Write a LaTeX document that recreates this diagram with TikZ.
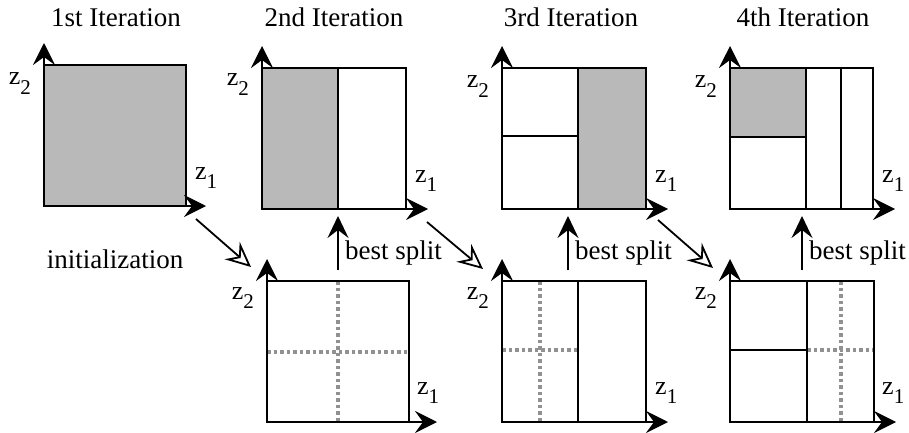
\documentclass[tikz,border=0pt]{standalone}
\usepackage{fontspec}
\setmainfont{Liberation Serif}
\usetikzlibrary{arrows.meta}
\definecolor{cellgray}{RGB}{185,185,185}
\definecolor{dotgray}{RGB}{145,145,145}
\newcommand{\zlab}[1]{z\raisebox{-0.38em}{\fontsize{21}{21}\selectfont #1}}
\begin{document}
\begin{tikzpicture}[x=1pt,y=-1pt,
  box/.style={draw=black,line width=2pt},
  sep/.style={draw=black,line width=2pt},
  axis/.style={line width=2.2pt,-{Stealth[length=22pt,width=22pt,inset=8pt]}},
  cand/.style={draw=dotgray,line width=3.5pt,dash pattern=on 3.5pt off 3pt},
  flow/.style={line width=1.8pt,-{Stealth[open,length=25pt,width=23pt,inset=9pt,fill=white]}},
  upar/.style={line width=2pt,-{Stealth[length=22pt,width=21pt,inset=8pt]}},
  lab/.style={font=\fontsize{27}{32}\selectfont,inner sep=0pt},
  zl/.style={font=\fontsize{26}{30}\selectfont,inner sep=0pt}]
\useasboundingbox (0,0) rectangle (909,433);

% ---------- titles ----------
\node[lab,anchor=base] (t1) at (116,27) {1st Iteration};
\node[lab,anchor=base] (t2) at (334,27) {2nd Iteration};
\node[lab,anchor=base] (t3) at (571,27) {3rd Iteration};
\node[lab,anchor=base] (t4) at (803,27) {4th Iteration};

% ---------- panel 1 ----------
\fill[cellgray] (44,65) rectangle (186,206);
\draw[box] (44,65) rectangle (186,206);
\coordinate (o1) at (44,206); \coordinate (y1) at (44,43); \coordinate (x1) at (206,206);
\draw[axis] (o1) -- (y1); \draw[axis] (o1) -- (x1);
\node[zl,anchor=base east] (z2a) at (31,85) {\zlab{2}};
\node[zl,anchor=base west] (z1a) at (195,179) {\zlab{1}};

% ---------- panel 2 ----------
\fill[cellgray] (262,68) rectangle (338,209);
\draw[box] (262,68) rectangle (406,209);
\draw[sep] (338,68) -- (338,209);
\coordinate (o2) at (262,209); \coordinate (y2) at (262,46); \coordinate (x2) at (428,209);
\draw[axis] (o2) -- (y2); \draw[axis] (o2) -- (x2);
\node[zl,anchor=base east] (z2b) at (249,86) {\zlab{2}};
\node[zl,anchor=base west] (z1b) at (415,182) {\zlab{1}};

% ---------- panel 3 ----------
\fill[cellgray] (578,68) rectangle (646,209);
\draw[box] (502,68) rectangle (646,209);
\draw[sep] (578,68) -- (578,209);
\draw[sep] (502,136) -- (578,136);
\coordinate (o3) at (502,209); \coordinate (y3) at (502,46); \coordinate (x3) at (668,209);
\draw[axis] (o3) -- (y3); \draw[axis] (o3) -- (x3);
\node[zl,anchor=base east] (z2c) at (489,88) {\zlab{2}};
\node[zl,anchor=base west] (z1c) at (655,182) {\zlab{1}};

% ---------- panel 4 ----------
\fill[cellgray] (730,68) rectangle (806,137);
\draw[box] (730,68) rectangle (873,209);
\draw[sep] (806,68) -- (806,209);
\draw[sep] (841,68) -- (841,209);
\draw[sep] (730,137) -- (806,137);
\coordinate (o4) at (730,209); \coordinate (y4) at (730,46); \coordinate (x4) at (895,209);
\draw[axis] (o4) -- (y4); \draw[axis] (o4) -- (x4);
\node[zl,anchor=base east] (z2d) at (717,88) {\zlab{2}};
\node[zl,anchor=base west] (z1d) at (882,182) {\zlab{1}};

% ---------- bottom panel 2 ----------
\draw[cand] (338,281) -- (338,422);
\draw[cand] (267,352) -- (409,352);
\draw[box] (267,281) rectangle (409,422);
\coordinate (ob2) at (267,422); \coordinate (yb2) at (267,259); \coordinate (xb2) at (437,422);
\draw[axis] (ob2) -- (yb2); \draw[axis] (ob2) -- (xb2);
\node[zl,anchor=base east] (z2e) at (254,299) {\zlab{2}};
\node[zl,anchor=base west] (z1e) at (417,394) {\zlab{1}};

% ---------- bottom panel 3 ----------
\draw[cand] (540,281) -- (540,422);
\draw[cand] (502,350) -- (578,350);
\draw[box] (502,281) rectangle (646,422);
\draw[sep] (578,281) -- (578,422);
\coordinate (ob3) at (502,422); \coordinate (yb3) at (502,259); \coordinate (xb3) at (668,422);
\draw[axis] (ob3) -- (yb3); \draw[axis] (ob3) -- (xb3);
\node[zl,anchor=base east] (z2f) at (489,299) {\zlab{2}};
\node[zl,anchor=base west] (z1f) at (655,394) {\zlab{1}};

% ---------- bottom panel 4 ----------
\draw[cand] (841,281) -- (841,422);
\draw[cand] (807,350) -- (874,350);
\draw[box] (730,281) rectangle (874,422);
\draw[sep] (807,281) -- (807,422);
\draw[sep] (730,350) -- (807,350);
\coordinate (ob4) at (730,422); \coordinate (yb4) at (730,259); \coordinate (xb4) at (896,422);
\draw[axis] (ob4) -- (yb4); \draw[axis] (ob4) -- (xb4);
\node[zl,anchor=base east] (z2g) at (717,299) {\zlab{2}};
\node[zl,anchor=base west] (z1g) at (882,394) {\zlab{1}};

% ---------- flow arrows ----------
\coordinate (d1s) at (196,219); \coordinate (d1e) at (251,267);
\coordinate (d2s) at (427,222); \coordinate (d2e) at (483,269);
\coordinate (d3s) at (658,220); \coordinate (d3e) at (713,268);
\draw[flow] (d1s) -- (d1e);
\draw[flow] (d2s) -- (d2e);
\draw[flow] (d3s) -- (d3e);
\node[lab,anchor=base] (init) at (115,268) {initialization};

% ---------- best split ----------
\coordinate (b1s) at (338,270); \coordinate (b1e) at (338,216);
\coordinate (b2s) at (568,270); \coordinate (b2e) at (568,216);
\coordinate (b3s) at (802,270); \coordinate (b3e) at (802,216);
\draw[upar] (b1s) -- (b1e);
\draw[upar] (b2s) -- (b2e);
\draw[upar] (b3s) -- (b3e);
\node[lab,anchor=base west] (bs1) at (345,259) {best split};
\node[lab,anchor=base west] (bs2) at (575,259) {best split};
\node[lab,anchor=base west] (bs3) at (809,259) {best split};
\end{tikzpicture}
\end{document}
